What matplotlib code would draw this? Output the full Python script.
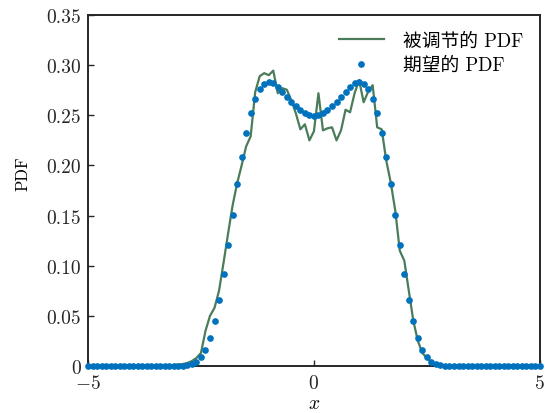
import matplotlib
matplotlib.use("Agg")
import matplotlib.pyplot as plt
import numpy as np
from matplotlib.font_manager import FontProperties

plt.rcParams['font.family'] = ['cmr10', 'Noto Sans CJK SC']
plt.rcParams['mathtext.fontset'] = 'cm'
plt.rcParams['axes.formatter.use_mathtext'] = True

# grid of x values, step 0.1 from -5 to 5
x = np.round(np.arange(-50, 51) / 10, 1)

# desired (target) PDF
pdf_target = [
    0.0, 0.0, 0.0, 0.0, 0.0, 0.0, 0.0, 0.0, 0.0, 0.0,           # -5.0 .. -4.1
    0.0, 0.0, 0.0, 0.0, 0.0, 0.0, 0.0, 0.0, 0.0, 0.0,           # -4.0 .. -3.1
    0.0001, 0.0004, 0.0009, 0.002, 0.0043, 0.0087, 0.016, 0.028, 0.0446, 0.066,   # -3.0 .. -2.1
    0.0917, 0.1206, 0.151, 0.181, 0.2086, 0.2328, 0.2522, 0.2665, 0.276, 0.2812,  # -2.0 .. -1.1
    0.2829, 0.2818, 0.2785, 0.2735, 0.2683, 0.2635, 0.259, 0.255, 0.2522, 0.2505, # -1.0 .. -0.1
    0.2495,                                                                         # 0.0
    0.2505, 0.2522, 0.255, 0.259, 0.2635, 0.2683, 0.2735, 0.2785, 0.2818, 0.2829, # 0.1 .. 1.0
    0.2812, 0.276, 0.2665, 0.2522, 0.2328, 0.2086, 0.181, 0.151, 0.1206, 0.0917,  # 1.1 .. 2.0
    0.066, 0.0446, 0.028, 0.016, 0.0087, 0.0043, 0.002, 0.0009, 0.0004, 0.0001,   # 2.1 .. 3.0
    0.0, 0.0, 0.0, 0.0, 0.0, 0.0, 0.0, 0.0, 0.0, 0.0,           # 3.1 .. 4.0
    0.0, 0.0, 0.0, 0.0, 0.0, 0.0, 0.0, 0.0, 0.0, 0.0,           # 4.1 .. 5.0
]

# adjusted PDF (the noisy line)
pdf_adjusted = [
    0.0, 0.0, 0.0, 0.0, 0.0, 0.0, 0.0, 0.0, 0.0, 0.0,           # -5.0 .. -4.1
    0.0, 0.0, 0.0, 0.0, 0.0, 0.0, 0.0, 0.0, 0.0005, 0.001,      # -4.0 .. -3.1
    0.0015, 0.002, 0.003, 0.005, 0.008, 0.013, 0.035, 0.050, 0.058, 0.075,        # -3.0 .. -2.1
    0.103, 0.132, 0.160, 0.182, 0.200, 0.219, 0.229, 0.273, 0.289, 0.292,        # -2.0 .. -1.1
    0.290, 0.2945, 0.272, 0.277, 0.2755, 0.265, 0.252, 0.236, 0.241, 0.225,      # -1.0 .. -0.1
    0.234,                                                                          # 0.0
    0.272, 0.235, 0.237, 0.238, 0.225, 0.235, 0.2555, 0.253, 0.272, 0.285,        # 0.1 .. 1.0
    0.263, 0.2735, 0.280, 0.238, 0.236, 0.205, 0.183, 0.155, 0.115, 0.105,        # 1.1 .. 2.0
    0.075, 0.045, 0.025, 0.013, 0.008, 0.004, 0.002, 0.001, 0.0005, 0.0,          # 2.1 .. 3.0
    0.0, 0.0, 0.0, 0.0, 0.0, 0.0, 0.0, 0.0, 0.0, 0.0,           # 3.1 .. 4.0
    0.0, 0.0, 0.0, 0.0, 0.0, 0.0, 0.0, 0.0, 0.0, 0.0,           # 4.1 .. 5.0
]

yticks = [0, 0.05, 0.10, 0.15, 0.20, 0.25, 0.30, 0.35]
ytick_labels = ['0', '0.05', '0.10', '0.15', '0.20', '0.25', '0.30', '0.35']
xticks = [-5, 0, 5]
xtick_labels = ['$-5$', '$0$', '$5$']

fig = plt.figure(figsize=(5.52, 4.14), dpi=100)
ax = fig.add_axes([0.1594, 0.1135, 0.8186, 0.8479])

ax.plot(x, pdf_adjusted, color='#4a7c59', linewidth=1.6, label='被调节的 PDF')
ax.plot(x, pdf_target, linestyle='none', marker='o', markersize=3.8,
        color='#0072BD', clip_on=False, label='期望的 PDF', zorder=3)

ax.set_xlim(-5, 5)
ax.set_ylim(0, 0.35)
ax.set_xticks(xticks)
ax.set_xticklabels(xtick_labels)
ax.set_yticks(yticks)
ax.set_yticklabels(ytick_labels)
ax.tick_params(direction='in', length=4, width=1, labelsize=14, colors='#262626')
ax.tick_params(axis='x', pad=6)
ax.tick_params(axis='y', pad=5)
for s in ax.spines.values():
    s.set_linewidth(1.4)
    s.set_color('#262626')

ax.set_xlabel('$x$', fontsize=14, labelpad=1)
ax.set_ylabel('PDF', fontsize=12)
ax.yaxis.set_label_coords(-0.127, 0.55)

leg_font = FontProperties(family=['cmr10', 'Noto Sans CJK SC'], size=13.5)
ax.legend(loc='upper right', frameon=False, prop=leg_font, numpoints=1,
          handlelength=2.4, handletextpad=1.0, borderaxespad=0.5,
          labelspacing=0.35)

fig.savefig('out.png', dpi=100)
